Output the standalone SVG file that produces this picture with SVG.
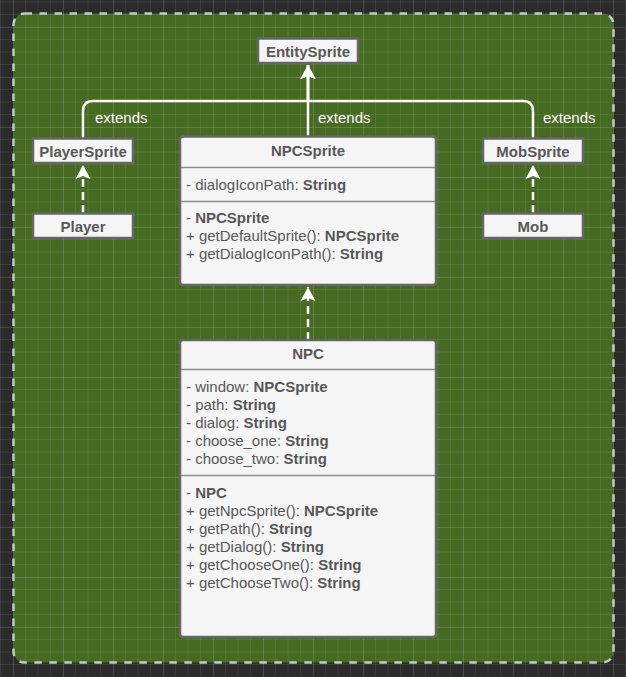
<svg xmlns="http://www.w3.org/2000/svg" width="626" height="677" viewBox="0 0 626 677">
<defs>
<pattern id="grid" x="13" y="27" width="50" height="50" patternUnits="userSpaceOnUse">
<path d="M12.5,0V50M25,0V50M37.5,0V50M0,12.5H50M0,25H50M0,37.5H50" stroke="#ffffff" stroke-opacity="0.08" stroke-width="1" fill="none"/>
<path d="M0.5,0V50M0,0.5H50" stroke="#ffffff" stroke-opacity="0.15" stroke-width="1" fill="none"/>
</pattern>
<marker id="arr" viewBox="0 0 16 16" refX="14" refY="8" markerWidth="16" markerHeight="16" markerUnits="userSpaceOnUse" orient="auto">
<path d="M14,8 L0,0.5 L3,8 L0,15.5 Z" fill="#ffffff"/>
</marker>
<style>
.box{fill:#f5f5f5;stroke:#666666;stroke-width:2.5}
.div{stroke:#8c8c8c;stroke-width:1.5}
.t{font-family:"Liberation Sans",Arial,sans-serif;font-size:15px;fill:#585858}
.b{font-weight:bold}
.c{text-anchor:middle}
.lbl{font-family:"Liberation Sans",Arial,sans-serif;font-size:15px;fill:#ffffff}
.edge{fill:none;stroke:#ffffff;stroke-width:2.5}
.dash{stroke-dasharray:8 5}
</style>
</defs>
<rect x="0" y="0" width="626" height="677" fill="#2b2b2c"/>
<rect x="13.5" y="13.5" width="600" height="649" rx="11" fill="#466a22"/>
<rect x="0" y="0" width="626" height="677" fill="url(#grid)"/>
<rect x="13.5" y="13.5" width="600" height="649" rx="11" fill="none" stroke="#c8c8c8" stroke-width="2.5" stroke-dasharray="7.5 7.5"/>

<g id="connectors">
<path class="edge" d="M83,138 V111 Q83,101 93,101 H308 V65" marker-end="url(#arr)"/>
<path class="edge" d="M533,138 V111 Q533,101 523,101 H308 V65" marker-end="url(#arr)"/>
<path class="edge" d="M308,136 V65" marker-end="url(#arr)"/>
<path class="edge dash" d="M83,213 V165" marker-end="url(#arr)"/>
<path class="edge dash" d="M533,213 V165" marker-end="url(#arr)"/>
<path class="edge dash" d="M308,340 V287" marker-end="url(#arr)"/>
<text class="lbl" x="95" y="123">extends</text>
<text class="lbl" x="318" y="123">extends</text>
<text class="lbl" x="543" y="123">extends</text>
</g>

<g id="EntitySprite">
<rect class="box" x="258" y="38.5" width="100" height="24.5"/>
<text class="t b c" x="308" y="56.5">EntitySprite</text>
</g>
<g id="PlayerSprite">
<rect class="box" x="33" y="138.5" width="100" height="24.5"/>
<text class="t b c" x="83" y="156.5">PlayerSprite</text>
</g>
<g id="Player">
<rect class="box" x="33" y="213.5" width="100" height="24.5"/>
<text class="t b c" x="83" y="231.5">Player</text>
</g>
<g id="MobSprite">
<rect class="box" x="483" y="138.5" width="100" height="24.5"/>
<text class="t b c" x="533" y="156.5">MobSprite</text>
</g>
<g id="Mob">
<rect class="box" x="483" y="213.5" width="100" height="24.5"/>
<text class="t b c" x="533" y="231.5">Mob</text>
</g>

<g id="NPCSprite">
<rect class="box" x="180" y="136.5" width="256" height="148.5" rx="3"/>
<line class="div" x1="181" y1="167.5" x2="435" y2="167.5"/>
<line class="div" x1="181" y1="201.5" x2="435" y2="201.5"/>
<text class="t b c" x="308" y="155.5">NPCSprite</text>
<text class="t" x="186" y="189.5">- dialogIconPath: <tspan class="b">String</tspan></text>
<text class="t" x="186" y="222.5">- <tspan class="b">NPCSprite</tspan></text>
<text class="t" x="186" y="240.5">+ getDefaultSprite(): <tspan class="b">NPCSprite</tspan></text>
<text class="t" x="186" y="258.5">+ getDialogIconPath(): <tspan class="b">String</tspan></text>
</g>

<g id="NPC">
<rect class="box" x="180" y="340" width="256" height="297" rx="3"/>
<line class="div" x1="181" y1="369.5" x2="435" y2="369.5"/>
<line class="div" x1="181" y1="475.5" x2="435" y2="475.5"/>
<text class="t b c" x="308" y="358.5">NPC</text>
<text class="t" x="186" y="391.5">- window: <tspan class="b">NPCSprite</tspan></text>
<text class="t" x="186" y="409.5">- path: <tspan class="b">String</tspan></text>
<text class="t" x="186" y="427.5">- dialog: <tspan class="b">String</tspan></text>
<text class="t" x="186" y="445.5">- choose_one: <tspan class="b">String</tspan></text>
<text class="t" x="186" y="463.5">- choose_two: <tspan class="b">String</tspan></text>
<text class="t" x="186" y="497.5">- <tspan class="b">NPC</tspan></text>
<text class="t" x="186" y="515.5">+ getNpcSprite(): <tspan class="b">NPCSprite</tspan></text>
<text class="t" x="186" y="533.5">+ getPath(): <tspan class="b">String</tspan></text>
<text class="t" x="186" y="551.5">+ getDialog(): <tspan class="b">String</tspan></text>
<text class="t" x="186" y="569.5">+ getChooseOne(): <tspan class="b">String</tspan></text>
<text class="t" x="186" y="587.5">+ getChooseTwo(): <tspan class="b">String</tspan></text>
</g>
</svg>
